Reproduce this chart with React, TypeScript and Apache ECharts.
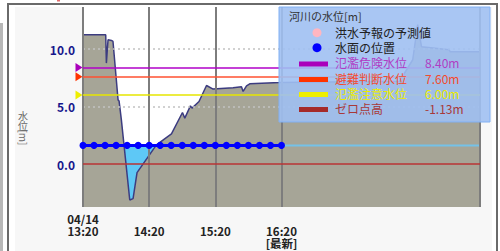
import React, { useEffect, useRef } from "react";
import * as echarts from "echarts";

// ---- axis ticks / labels (x in minutes from 04/14 13:20) ----
const tickMinutes = [0, 60, 120, 180];
const tickLabels = ["04/14\n13:20", "\n14:20", "\n15:20", "\n16:20\n[最新]"];
const verticalLineMinutes = [0, 60, 120, 180, 360];
const yTickValues = [0, 5, 10];
const dottedGridValues = [5, 10];

// ---- river water level [minute, m] ----
const waterLevel: [number, number][] = [
  [0, 11.25], [20.6, 11.25], [21.2, 8.78], [22.7, 10.81], [25.8, 10.75],
  [27.2, 10.66], [31.8, 5.58], [32.7, 5.49], [34.8, 3.84], [42.4, -3.13],
  [45.4, -3.01], [49.0, -0.75], [66.6, 1.66], [80.2, 2.62], [90.2, 4.48],
  [92.3, 3.99], [97.4, 5.06], [98.9, 4.86], [105.2, 5.44], [112.0, 6.83],
  [118.0, 6.52], [136.1, 6.63], [143.7, 6.72], [145.2, 6.31], [148.3, 6.8],
  [151.2, 6.98], [178.4, 7.09], [180, 7.1], [287, 7.2], [299, 9.07],
  [303.5, 12.12], [307, 10.2], [332, 9.94], [333, 9.76], [360, 9.76],
];

// ---- water surface position ----
const surfaceLevel = 1.62;
const surfaceMinutes = [0, 10, 20, 30, 40, 50, 60, 70, 80, 90, 100, 110, 120, 130, 140, 150, 160, 170, 180];
const surfaceAfterMinutes = [180, 360];
// part of the water level line that lies below the water surface
const belowSurface: [number, number][] = [
  [37.2, 1.62], [42.4, -3.13], [45.4, -3.01], [49.0, -0.75], [66.3, 1.62],
];

// ---- reference levels ----
const refNames = ["氾濫危険水位", "避難判断水位", "氾濫注意水位", "ゼロ点高"];
const refValues = [8.4, 7.6, 6.0, 0];
const refLabels = ["8.40m", "7.60m", "6.00m", "-1.13m"];
const refLineColors = ["#b000c8", "#ff5030", "#e6e600", "#b83434"];
const refBarColors = ["#aa00bb", "#ff3300", "#eeee00", "#a52a2a"];
const refTextColors = ["#b03cc4", "#f44a2c", "#ecec00", "#a83838"];
const refHasMarker = [true, true, true, false];

const legendTitle = "河川の水位[m]";
const forecastName = "洪水予報の予測値";
const surfaceName = "水面の位置";

const FONT = '"Noto Sans CJK JP", "Noto Sans", sans-serif';

export default function App() {
  const ref = useRef<HTMLDivElement>(null);

  useEffect(() => {
    const chart = echarts.init(ref.current!, null, { renderer: "svg" });

    const markLineData: any[] = [
      ...dottedGridValues.map((v) => ({
        yAxis: v,
        lineStyle: { color: "#c2c2c2", width: 1.5, type: [2, 3] },
      })),
      ...verticalLineMinutes.map((m) => ({
        xAxis: m,
        lineStyle: { color: "#7d7d7d", width: 2, type: "solid" },
      })),
      ...refValues.map((v, i) => ({
        yAxis: v,
        lineStyle: { color: refLineColors[i], width: 1.5, type: "solid" },
      })),
    ];

    const markPointData: any[] = refValues
      .map((v, i) => ({ v, i }))
      .filter((d) => refHasMarker[d.i])
      .map(({ v, i }) => ({
        coord: [0, v],
        itemStyle: { color: refBarColors[i] },
      }));

    const rowY = [62.5, 78, 93, 108];
    const legendChildren: any[] = [
      {
        type: "rect",
        shape: { x: 279, y: 7, width: 211, height: 115 },
        style: { fill: "rgba(160,192,242,0.9)", stroke: "#80b0f4", lineWidth: 1 },
        z: 100,
      },
      {
        type: "text",
        x: 289,
        y: 15.5,
        style: { text: legendTitle, fontSize: 11, fill: "#333", verticalAlign: "middle", fontFamily: FONT },
        z: 101,
      },
      { type: "circle", shape: { cx: 317, cy: 32.7, r: 4.5 }, style: { fill: "#ffb6c1" }, z: 101 },
      {
        type: "text",
        x: 335,
        y: 32.7,
        style: { text: forecastName, fontSize: 12, fill: "#222", verticalAlign: "middle", fontFamily: FONT },
        z: 101,
      },
      { type: "circle", shape: { cx: 317, cy: 47.7, r: 4.5 }, style: { fill: "#0000ff" }, z: 101 },
      {
        type: "text",
        x: 335,
        y: 47.7,
        style: { text: surfaceName, fontSize: 12, fill: "#222", verticalAlign: "middle", fontFamily: FONT },
        z: 101,
      },
    ];
    refNames.forEach((name, i) => {
      legendChildren.push(
        {
          type: "rect",
          shape: { x: 299, y: rowY[i] - 1, width: 29, height: 5 },
          style: { fill: refBarColors[i] },
          z: 101,
        },
        {
          type: "text",
          x: 335,
          y: rowY[i],
          style: { text: name, fontSize: 12, fill: refTextColors[i], verticalAlign: "middle", fontFamily: FONT },
          z: 101,
        },
        {
          type: "text",
          x: 425,
          y: rowY[i],
          style: { text: refLabels[i], fontSize: 12, fill: refTextColors[i], verticalAlign: "middle", fontFamily: FONT },
          z: 101,
        }
      );
    });

    const axisNameChildren: any[] = [
      {
        type: "text",
        x: 23,
        y: 115,
        style: { text: "水", fontSize: 10, fill: "#666", align: "center", verticalAlign: "middle", fontFamily: FONT },
      },
      {
        type: "text",
        x: 23,
        y: 125,
        style: { text: "位", fontSize: 10, fill: "#666", align: "center", verticalAlign: "middle", fontFamily: FONT },
      },
      {
        type: "text",
        x: 23,
        y: 137.5,
        rotation: -Math.PI / 2,
        style: { text: "[m]", fontSize: 10, fill: "#666", align: "center", verticalAlign: "middle", fontFamily: FONT },
      },
      { type: "rect", shape: { x: 57, y: 0, width: 3, height: 1.5 }, style: { fill: "#e06a6a" } },
    ];

    chart.setOption({
      animation: false,
      textStyle: { fontFamily: FONT },
      grid: {
        left: 83,
        right: 20,
        top: 7,
        bottom: 44,
        show: true,
        backgroundColor: "#ffffff",
        borderWidth: 0,
      },
      xAxis: {
        type: "value",
        min: 0,
        max: 360,
        interval: 60,
        axisLine: { show: false },
        axisTick: { show: false },
        splitLine: { show: false },
        axisLabel: {
          formatter: (v: number) => {
            const i = tickMinutes.indexOf(v);
            return i >= 0 ? tickLabels[i] : "";
          },
          fontSize: 11.5,
          fontWeight: "bold",
          color: "#222",
          lineHeight: 12,
          margin: 6,
          fontFamily: FONT,
        },
      },
      yAxis: {
        type: "value",
        min: -3.74,
        max: 13.66,
        axisLine: { show: false },
        axisTick: { show: false },
        splitLine: { show: false },
        axisLabel: {
          customValues: yTickValues,
          formatter: (v: number) => v.toFixed(1),
          fontSize: 12,
          fontWeight: "bold",
          color: "#16168c",
          margin: 8,
          fontFamily: FONT,
        },
      },
      series: [
        {
          name: "area",
          type: "line",
          data: waterLevel,
          symbol: "none",
          lineStyle: { width: 0, opacity: 0 },
          areaStyle: { color: "#a6a597", opacity: 1, origin: "start" },
          z: 1,
          silent: true,
          emphasis: { disabled: true },
        },
        {
          name: "below",
          type: "line",
          data: belowSurface,
          symbol: "none",
          lineStyle: { width: 0, opacity: 0 },
          areaStyle: { color: "#5ec8f6", opacity: 1, origin: surfaceLevel },
          z: 2,
          silent: true,
          emphasis: { disabled: true },
        },
        {
          name: "河川の水位",
          type: "line",
          data: waterLevel,
          symbol: "none",
          lineStyle: { color: "#3c3c80", width: 1.5 },
          z: 3,
          silent: true,
          emphasis: { disabled: true },
          markLine: {
            silent: true,
            symbol: "none",
            label: { show: false },
            emphasis: { disabled: true },
            data: markLineData,
          },
          markPoint: {
            silent: true,
            symbol: "triangle",
            symbolSize: [9, 7],
            symbolRotate: -90,
            symbolOffset: [-4, 0],
            label: { show: false },
            data: markPointData,
          },
        },
        {
          name: "after",
          type: "line",
          data: surfaceAfterMinutes.map((m) => [m, surfaceLevel]),
          symbol: "none",
          lineStyle: { color: "#74c2e8", width: 2 },
          z: 4,
          silent: true,
          emphasis: { disabled: true },
        },
        {
          name: surfaceName,
          type: "line",
          data: surfaceMinutes.map((m) => [m, surfaceLevel]),
          symbol: "circle",
          symbolSize: 7,
          itemStyle: { color: "#0000ff" },
          lineStyle: { color: "#0000ff", width: 3 },
          z: 5,
          silent: true,
          emphasis: { disabled: true },
        },
      ],
      graphic: [...axisNameChildren, ...legendChildren],
    });

    return () => chart.dispose();
  }, []);

  return (
    <div
      style={{
        position: "fixed",
        left: 0,
        top: 0,
        width: 500,
        height: 251,
        background: "#ffffff",
        overflow: "hidden",
      }}
    >
      <div style={{ position: "absolute", left: 0, top: 23, width: 3, height: 240, background: "#b8b8b8" }} />
      <div
        style={{
          position: "absolute",
          left: 7,
          top: 3,
          width: 487,
          height: 300,
          borderTop: "2px solid #6a6a6a",
          borderLeft: "2px solid #6a6a6a",
          borderRight: "2px solid #6a6a6a",
        }}
      />
      <div style={{ position: "absolute", left: 15, top: 7, width: 477, height: 260, background: "#f7f7f7" }} />
      <div ref={ref} style={{ position: "absolute", left: 0, top: 0, width: 500, height: 251 }} />
    </div>
  );
}
